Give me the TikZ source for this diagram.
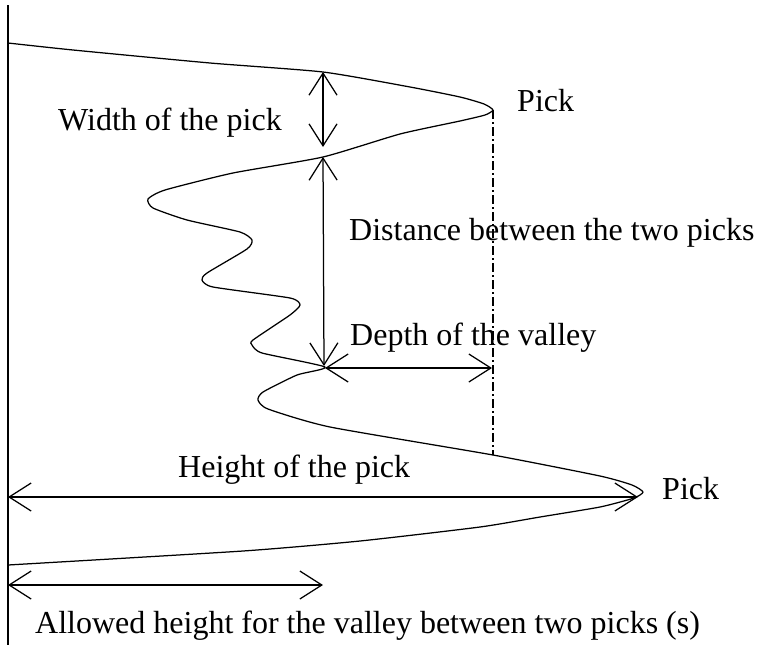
\documentclass[tikz,border=0pt]{standalone}
\usepackage{fontspec}
\setmainfont{Liberation Serif}
\usetikzlibrary{arrows.meta}
\begin{document}
\begin{tikzpicture}[x=1pt,y=-1pt,
  curve/.style={line width=1.25pt, line join=round},
  dim/.style={line width=1.25pt, {Straight Barb[length=22pt,width=28pt]}-{Straight Barb[length=22pt,width=28pt]}},
  dashdot/.style={line width=1.1pt, dash pattern=on 9pt off 3pt on 2pt off 3pt},
  lbl/.style={anchor=base west, inner sep=0pt, font=\fontsize{32}{38}\selectfont}]
\useasboundingbox[fill=white] (0,0) rectangle (759,645);
% axis
\coordinate (axtop) at (8,5);
\coordinate (axbot) at (8,645);
\draw[line width=1.3pt] (axtop) -- (axbot);
% curve
\draw[curve] plot[smooth, tension=0.35] coordinates {
(8,43) (73,50) (210,63) (323,72) (410,87) (460,97) (484,104) (493,110) (485,115)
(460,121) (400,134) (323,157) (233,173) (165,190) (148,199) (153,208) (187,220)
(240,232) (252,240) (247,249) (207,273) (202,280) (213,287) (290,298)
(300,305) (290,315) (253,340) (252,345) (262,353) (325,367) (297,375)
(263,392) (258,400) (268,409) (330,427) (493,455) (600,476) (632,485) (643,492)
(634,498) (600,507) (540,517) (480,527) (360,541) (243,551) (8,565)};
% key points
\coordinate (tip1) at (493,110);
\coordinate (cross) at (493,455);
\coordinate (w1) at (323,72);
\coordinate (w2) at (323,147);
\coordinate (d1) at (323,157);
\coordinate (d2) at (324,366);
\coordinate (v1) at (325,368);
\coordinate (v2) at (492,368);
\coordinate (h1) at (8,497);
\coordinate (h2) at (638,497);
\coordinate (a1) at (8,585);
\coordinate (a2) at (323,585);
% dash-dot line
\draw[dashdot] (tip1) -- (cross);
% dimension arrows
\draw[dim] (w1) -- (w2);
\draw[dim] (d1) -- (d2);
\draw[dim] (v1) -- (v2);
\draw[dim] (h1) -- (h2);
\draw[dim] (a1) -- (a2);
% labels
\node[lbl] (pick1) at (517,111) {Pick};
\node[lbl] (width) at (58,130) {Width of the pick};
\node[lbl] (dist) at (349,240) {Distance between the two picks};
\node[lbl] (depth) at (350,345) {Depth of the valley};
\node[lbl] (height) at (178,477) {Height of the pick};
\node[lbl] (pick2) at (662,499) {Pick};
\node[lbl] (allowed) at (35,633) {Allowed height for the valley between two picks (s)};
\end{tikzpicture}
\end{document}
